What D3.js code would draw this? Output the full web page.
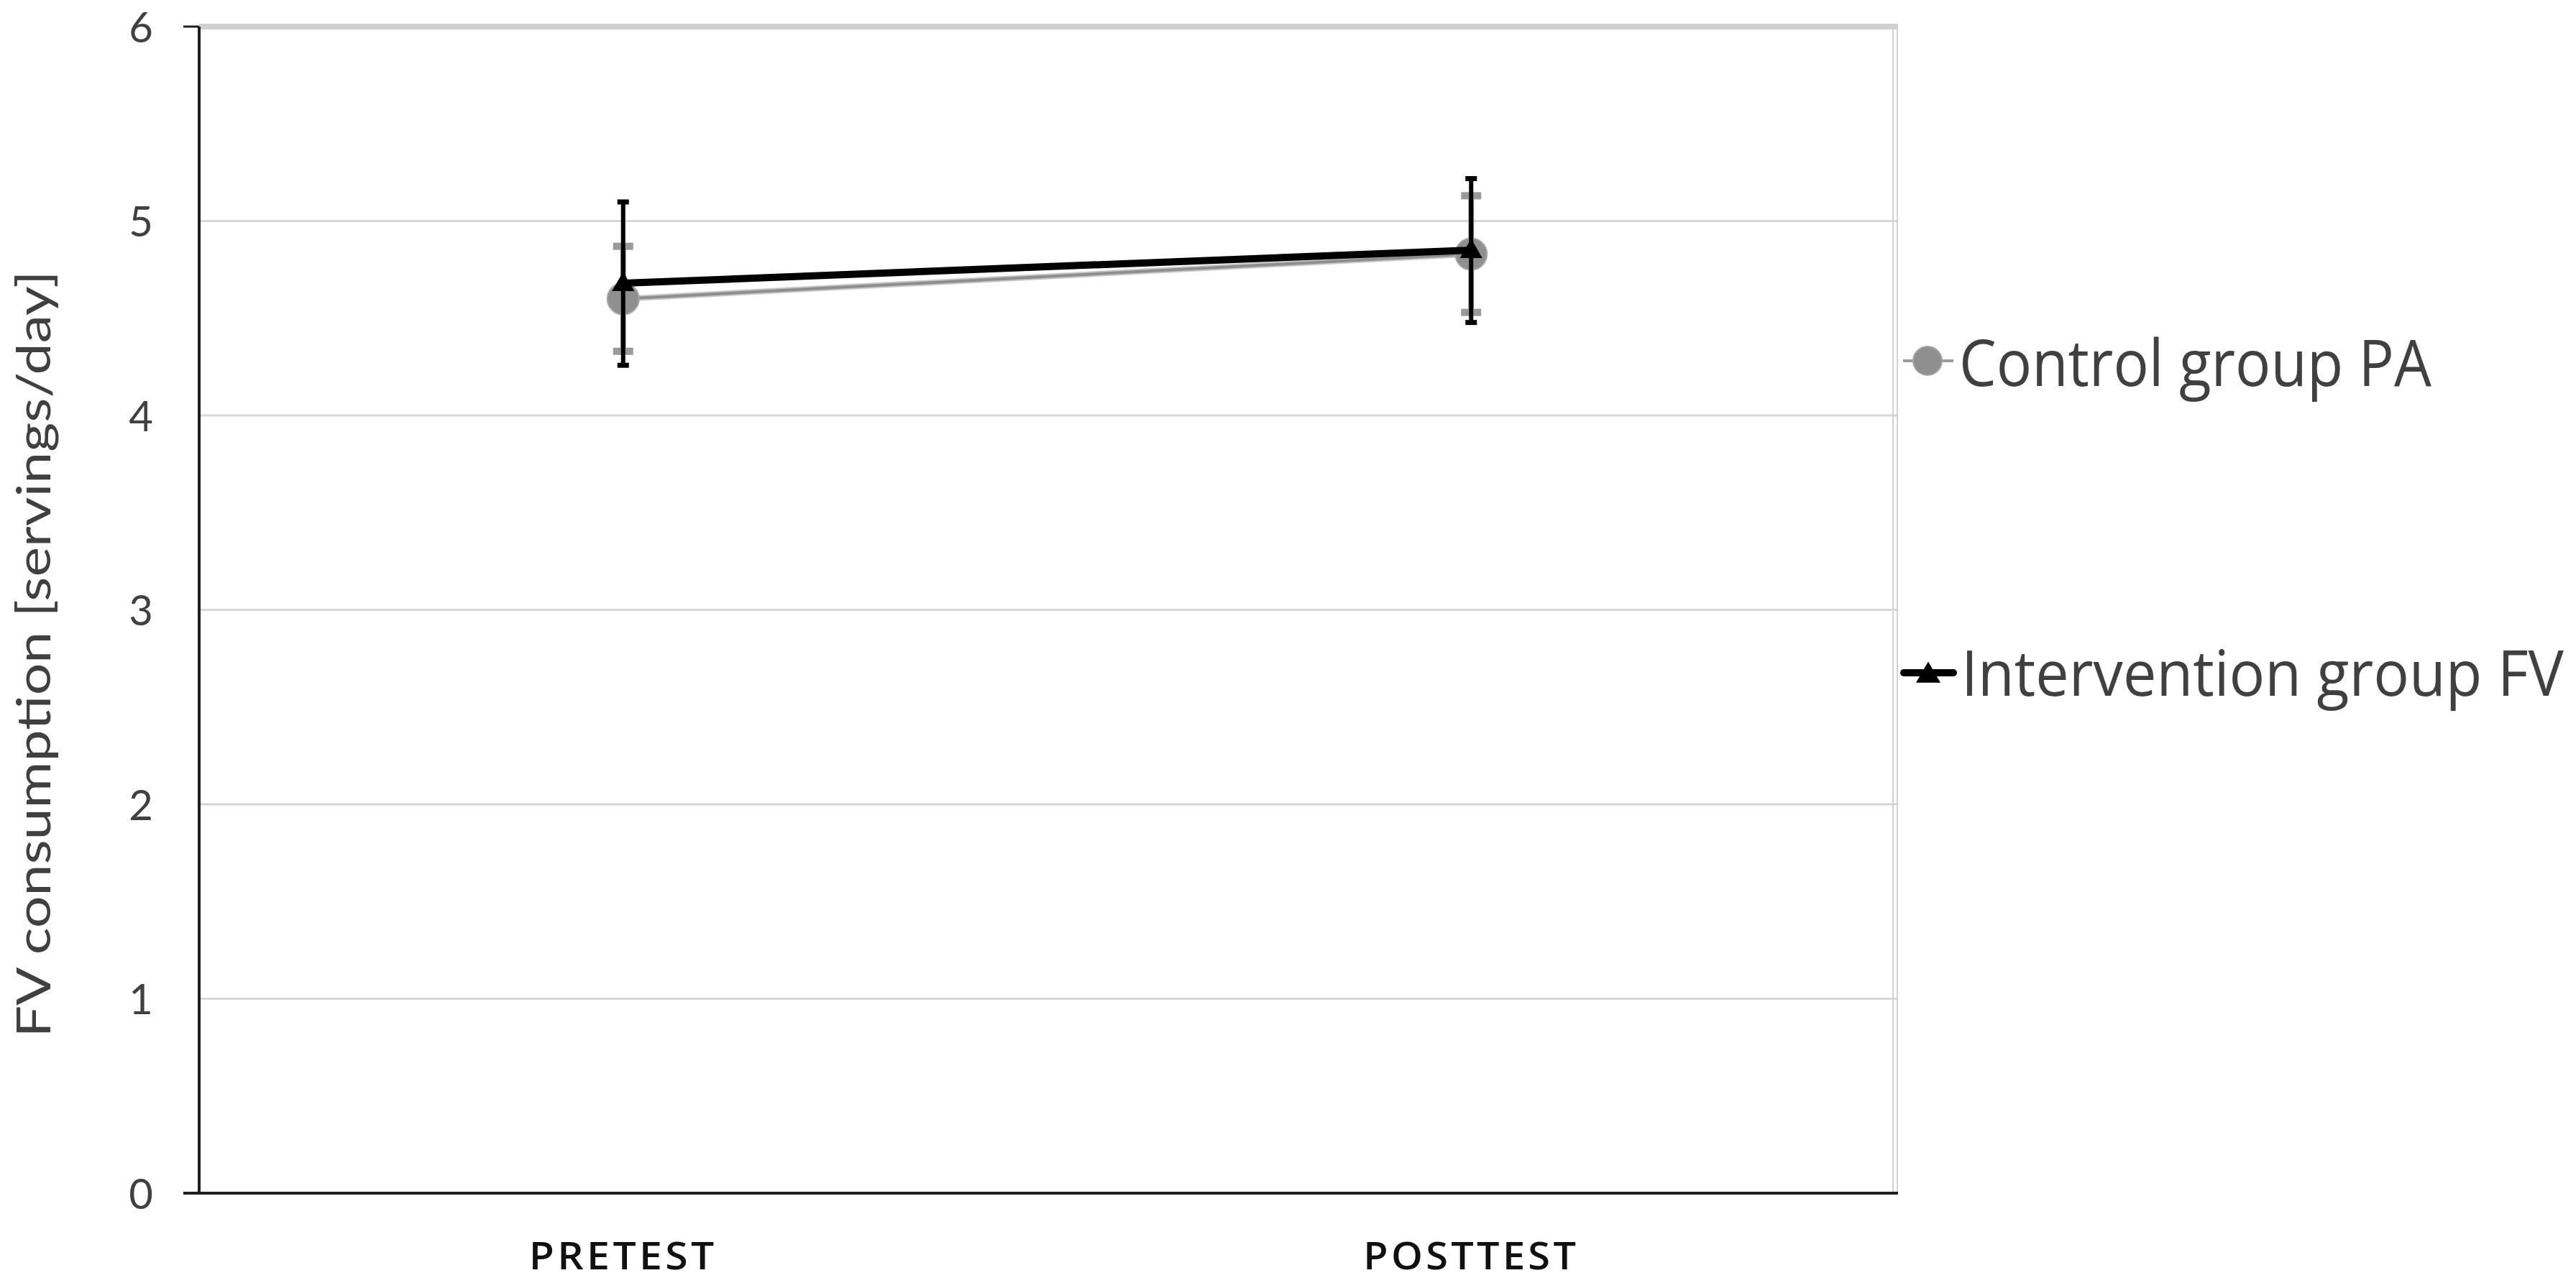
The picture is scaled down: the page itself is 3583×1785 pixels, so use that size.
<!DOCTYPE html>
<html>
<head>
<meta charset="utf-8">
<script src="https://cdn.jsdelivr.net/npm/d3@7/dist/d3.min.js"></script>
<style>
  html, body { margin: 0; padding: 0; background: #ffffff; }
  svg { display: block; }
  text { font-family: "Open Sans", "Noto Sans", sans-serif; }
</style>
</head>
<body>
<svg id="chart" width="3583" height="1785"></svg>
<script>
// ---- data ----
const categories = ["PRETEST", "POSTTEST"];
const seriesNames = ["Control group PA", "Intervention group FV"];
const controlMeans = [4.60, 4.83];
const controlErrors = [0.27, 0.30];
const interventionMeans = [4.68, 4.85];
const interventionErrors = [0.42, 0.37];
const yTicks = [0, 1, 2, 3, 4, 5, 6];
const yTitle = "FV consumption [servings/day]";

// ---- layout ----
const plot = { left: 277, right: 2636, top: 37, bottom: 1660 };
const svg = d3.select("#chart");

const x = d3.scaleBand().domain(categories).range([plot.left, plot.right]).paddingInner(0).paddingOuter(0);
const y = d3.scaleLinear().domain([0, 6]).range([plot.bottom, plot.top]);
const cx = c => x(c) + x.bandwidth() / 2;

// place a text at (px, py) (baseline-left), scaled horizontally to a target width
function fitText(g, str, px, py, size, target, fill, weight) {
  const t = g.append("text").attr("font-size", size).attr("fill", fill)
    .attr("font-weight", weight || 400).text(str);
  const L = t.node().getComputedTextLength();
  t.attr("transform", `translate(${px},${py}) scale(${target / L},1)`);
  return t;
}

// gridlines
svg.append("g").selectAll("line").data(yTicks.filter(v => v > 0 && v < 6)).join("line")
  .attr("x1", plot.left).attr("x2", plot.right + 3)
  .attr("y1", d => y(d)).attr("y2", d => y(d))
  .attr("stroke", "#d6d6d6").attr("stroke-width", 3);
// top gridline (thicker)
svg.append("line")
  .attr("x1", plot.left).attr("x2", plot.right + 4)
  .attr("y1", y(6)).attr("y2", y(6))
  .attr("stroke", "#d0d0d0").attr("stroke-width", 8);
// right border (double light line)
[plot.right - 3, plot.right + 3].forEach(xx => {
  svg.append("line").attr("x1", xx).attr("x2", xx)
    .attr("y1", y(6) - 4).attr("y2", plot.bottom)
    .attr("stroke", "#d2d2d2").attr("stroke-width", 2);
});

// y axis labels
const yAxis = d3.axisLeft(y).tickValues(yTicks).tickSize(0).tickPadding(0).tickFormat(d3.format("d"));
const gy = svg.append("g").attr("transform", `translate(${plot.left - 64},0)`).call(yAxis);
gy.select(".domain").remove();
gy.selectAll("text")
  .style("font-family", "Lato, 'Open Sans', sans-serif")
  .style("font-size", "58px").attr("fill", "#404040").attr("dy", "0.37em");

// axis lines
svg.append("line").attr("x1", plot.left).attr("x2", plot.left)
  .attr("y1", y(6)).attr("y2", plot.bottom + 2)
  .attr("stroke", "#1e1e1e").attr("stroke-width", 4);
svg.append("line").attr("x1", plot.left - 22).attr("x2", plot.right + 4)
  .attr("y1", plot.bottom).attr("y2", plot.bottom)
  .attr("stroke", "#1e1e1e").attr("stroke-width", 4);
svg.append("line").attr("x1", plot.left - 22).attr("x2", plot.left)
  .attr("y1", y(6)).attr("y2", y(6))
  .attr("stroke", "#1e1e1e").attr("stroke-width", 3);

// x labels
svg.append("g").selectAll("text").data(categories).join("text")
  .attr("x", d => cx(d)).attr("y", 1766)
  .attr("text-anchor", "middle")
  .attr("font-size", 52).attr("font-weight", 600).attr("fill", "#111")
  .attr("letter-spacing", 4)
  .attr("textLength", (d, i) => i === 0 ? 262 : 300)
  .attr("lengthAdjust", "spacingAndGlyphs")
  .text(d => d);

// y title
svg.append("text")
  .attr("transform", `translate(70,910) rotate(-90)`)
  .attr("text-anchor", "middle")
  .style("font-family", "Lato, 'Open Sans', sans-serif")
  .style("font-size", "66px").attr("fill", "#404040")
  .attr("textLength", 1067).attr("lengthAdjust", "spacingAndGlyphs")
  .text(yTitle);

// ---- series ----
const ctrl = categories.map((c, i) => ({ c, v: controlMeans[i], e: controlErrors[i] }));
const intv = categories.map((c, i) => ({ c, v: interventionMeans[i], e: interventionErrors[i] }));
const line = d3.line().x(d => cx(d.c)).y(d => y(d.v));

// control (grey)
svg.append("path").datum(ctrl).attr("d", line)
  .attr("fill", "none").attr("stroke", "#c8c8c8").attr("stroke-width", 8);
svg.append("path").datum(ctrl).attr("d", line)
  .attr("fill", "none").attr("stroke", "#8e8e8e").attr("stroke-width", 4);

const gCtrlErr = svg.append("g");
gCtrlErr.selectAll("line.v").data(ctrl).join("line").attr("class", "v")
  .attr("x1", d => cx(d.c)).attr("x2", d => cx(d.c))
  .attr("y1", d => y(d.v + d.e)).attr("y2", d => y(d.v - d.e))
  .attr("stroke", "#9a9a9a").attr("stroke-width", 8);
gCtrlErr.selectAll("rect.capT").data(ctrl).join("rect")
  .attr("x", d => cx(d.c) - 14).attr("y", d => y(d.v + d.e) - 5)
  .attr("width", 28).attr("height", 10).attr("fill", "#9a9a9a");
gCtrlErr.selectAll("rect.capB").data(ctrl).join("rect")
  .attr("x", d => cx(d.c) - 14).attr("y", d => y(d.v - d.e) - 5)
  .attr("width", 28).attr("height", 10).attr("fill", "#9a9a9a");

svg.append("g").selectAll("circle").data(ctrl).join("circle")
  .attr("cx", d => cx(d.c)).attr("cy", d => y(d.v)).attr("r", 22)
  .attr("fill", "#8f8f8f").attr("stroke", "#a6a6a6").attr("stroke-width", 2);

// intervention (black)
svg.append("path").datum(intv).attr("d", line)
  .attr("fill", "none").attr("stroke", "#000").attr("stroke-width", 10);

const gIntErr = svg.append("g");
gIntErr.selectAll("line.v").data(intv).join("line")
  .attr("x1", d => cx(d.c)).attr("x2", d => cx(d.c))
  .attr("y1", d => y(d.v + d.e)).attr("y2", d => y(d.v - d.e))
  .attr("stroke", "#000").attr("stroke-width", 6);
gIntErr.selectAll("rect.capT").data(intv).join("rect")
  .attr("x", d => cx(d.c) - 8).attr("y", d => y(d.v + d.e) - 3)
  .attr("width", 16).attr("height", 7).attr("fill", "#000");
gIntErr.selectAll("rect.capB").data(intv).join("rect")
  .attr("x", d => cx(d.c) - 8).attr("y", d => y(d.v - d.e) - 3)
  .attr("width", 16).attr("height", 7).attr("fill", "#000");

const tri = d3.symbol().type(d3.symbolTriangle).size(420);
svg.append("g").selectAll("path").data(intv).join("path")
  .attr("transform", d => `translate(${cx(d.c)},${y(d.v) + 2})`)
  .attr("d", tri).attr("fill", "#000");

// ---- legend ----
const legend = svg.append("g");
// control
legend.append("line").attr("x1", 2647).attr("x2", 2717).attr("y1", 502).attr("y2", 502)
  .attr("stroke", "#9a9a9a").attr("stroke-width", 4);
legend.append("circle").attr("cx", 2681).attr("cy", 502).attr("r", 20)
  .attr("fill", "#8f8f8f").attr("stroke", "#a6a6a6").attr("stroke-width", 2);
fitText(legend, seriesNames[0], 2725, 537, 90, 657, "#404040");
// intervention
legend.append("line").attr("x1", 2648).attr("x2", 2717).attr("y1", 936).attr("y2", 936)
  .attr("stroke", "#000").attr("stroke-width", 10).attr("stroke-linecap", "round");
legend.append("path").attr("transform", "translate(2682,940)")
  .attr("d", d3.symbol().type(d3.symbolTriangle).size(500)).attr("fill", "#000");
fitText(legend, seriesNames[1], 2728, 968, 88, 838, "#404040");
</script>
</body>
</html>
